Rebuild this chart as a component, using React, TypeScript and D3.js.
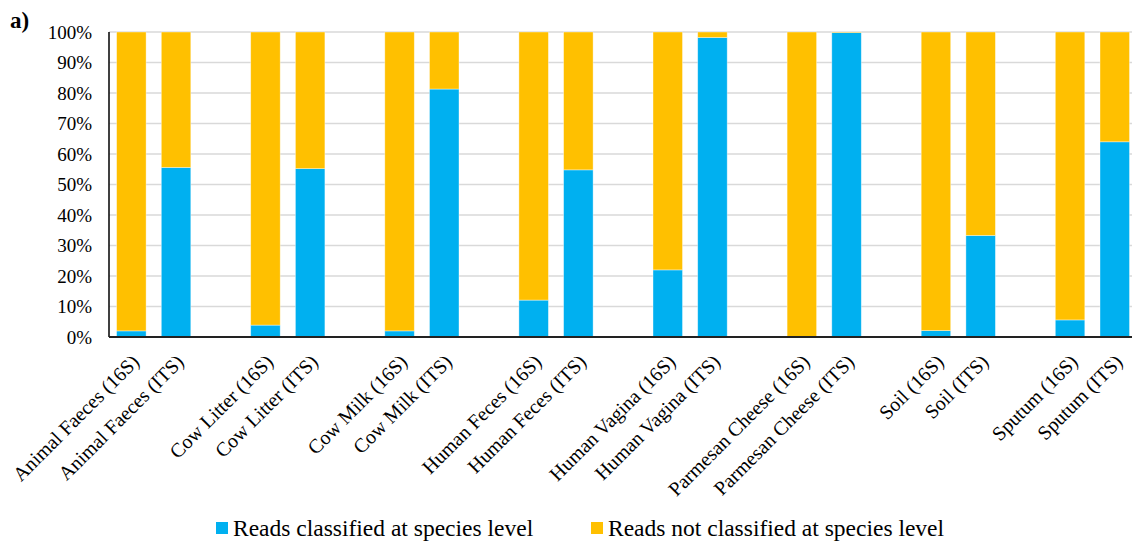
import React, { useEffect, useRef } from "react";
import * as d3 from "d3";

// sample names, two bars (16S / ITS) per sample
const samples = [
  "Animal Faeces",
  "Cow Litter",
  "Cow Milk",
  "Human Feces",
  "Human Vagina",
  "Parmesan Cheese",
  "Soil",
  "Sputum",
];
const markers = ["16S", "ITS"];

// % of reads classified at species level, order: sample x marker
const classified = [
  2.0, 55.6,
  3.9, 55.2,
  2.0, 81.3,
  12.1, 54.8,
  22.0, 98.2,
  0.0, 99.8,
  2.1, 33.3,
  5.6, 64.0,
];
const notClassified = classified.map((v) => 100 - v);

const yTicks = [0, 10, 20, 30, 40, 50, 60, 70, 80, 90, 100];
const seriesNames = [
  "Reads classified at species level",
  "Reads not classified at species level",
];

const BLUE = "#00B0F0";
const ORANGE = "#FFC000";

const App = () => {
  const ref = useRef<SVGSVGElement>(null);

  useEffect(() => {
    const svg = d3.select(ref.current);
    svg.selectAll("*").remove();

    const left = 109;
    const top = 32;
    const bottom = 337;
    const slot = 44.7;
    const nSlots = samples.length * 3 - 1;

    // each sample takes 3 slots: 16S, ITS, empty
    const bars = [];
    samples.forEach((s, i) => {
      markers.forEach((m, j) => {
        const k = i * 2 + j;
        bars.push({
          label: s + " (" + m + ")",
          slot: i * 3 + j,
          a: classified[k],
          b: notClassified[k],
        });
      });
    });

    const x = d3
      .scaleBand()
      .domain(d3.range(nSlots))
      .range([left, left + nSlots * slot])
      .paddingInner(0.34)
      .paddingOuter(0.17);

    const y = d3.scaleLinear().domain([0, 100]).range([bottom, top]);

    // gridlines
    svg
      .append("g")
      .selectAll("line")
      .data(yTicks.filter((t) => t > 0))
      .enter()
      .append("line")
      .attr("x1", left)
      .attr("x2", 1132)
      .attr("y1", (d) => y(d))
      .attr("y2", (d) => y(d))
      .attr("stroke", "#d9d9d9")
      .attr("stroke-width", 1.5);

    // y tick labels
    svg
      .append("g")
      .selectAll("text")
      .data(yTicks)
      .enter()
      .append("text")
      .attr("x", 92)
      .attr("y", (d) => y(d))
      .attr("dy", "0.36em")
      .attr("text-anchor", "end")
      .style("font-family", "'Liberation Serif', 'Times New Roman', serif")
      .style("font-size", "19px")
      .attr("fill", "#000")
      .text((d) => d + "%");

    const g = svg.append("g");
    // blue part
    g.selectAll("rect.a")
      .data(bars)
      .enter()
      .append("rect")
      .attr("class", "a")
      .attr("x", (d) => x(d.slot))
      .attr("width", x.bandwidth())
      .attr("y", (d) => y(d.a))
      .attr("height", (d) => bottom - y(d.a))
      .attr("fill", BLUE)
      .attr("stroke", "#ffffff")
      .attr("stroke-opacity", 0.5)
      .attr("stroke-width", 0.75);
    // orange part stacked on top
    g.selectAll("rect.b")
      .data(bars)
      .enter()
      .append("rect")
      .attr("class", "b")
      .attr("x", (d) => x(d.slot))
      .attr("width", x.bandwidth())
      .attr("y", (d) => y(d.a + d.b))
      .attr("height", (d) => y(d.a) - y(d.a + d.b))
      .attr("fill", ORANGE)
      .attr("stroke", "#ffffff")
      .attr("stroke-opacity", 0.5)
      .attr("stroke-width", 0.75);

    // axes lines
    svg
      .append("line")
      .attr("x1", left)
      .attr("x2", left)
      .attr("y1", top)
      .attr("y2", bottom)
      .attr("stroke", "#000")
      .attr("stroke-width", 1.5);
    svg
      .append("line")
      .attr("x1", left)
      .attr("x2", 1132)
      .attr("y1", bottom)
      .attr("y2", bottom)
      .attr("stroke", "#222")
      .attr("stroke-width", 2);

    // x labels, rotated
    svg
      .append("g")
      .selectAll("text")
      .data(bars)
      .enter()
      .append("text")
      .attr(
        "transform",
        (d) => `translate(${x(d.slot) + x.bandwidth() / 2 + 9}, 363) rotate(-45)`
      )
      .attr("text-anchor", "end")
      .style("font-family", "'Liberation Serif', 'Times New Roman', serif")
      .style("font-size", "20px")
      .attr("fill", "#000")
      .text((d) => d.label);

    // legend
    const legendX = [216, 591];
    const legend = svg.append("g");
    legend
      .selectAll("rect")
      .data(seriesNames)
      .enter()
      .append("rect")
      .attr("x", (d, i) => legendX[i])
      .attr("y", 522)
      .attr("width", 12)
      .attr("height", 12)
      .attr("fill", (d, i) => (i === 0 ? BLUE : ORANGE));
    legend
      .selectAll("text")
      .data(seriesNames)
      .enter()
      .append("text")
      .attr("x", (d, i) => legendX[i] + 17)
      .attr("y", 536)
      .style("font-family", "'Liberation Serif', 'Times New Roman', serif")
      .style("font-size", "23.5px")
      .attr("fill", "#000")
      .text((d) => d);

    // panel tag
    svg
      .append("text")
      .attr("x", 10)
      .attr("y", 28)
      .style("font-family", "'Liberation Serif', 'Times New Roman', serif")
      .style("font-size", "23px")
      .style("font-weight", "bold")
      .text("a)");
  }, []);

  return (
    <div style={{ position: "absolute", left: 0, top: 0 }}>
      <svg ref={ref} width="1132" height="542" style={{ display: "block", background: "#fff" }}></svg>
    </div>
  );
};

export default App;
